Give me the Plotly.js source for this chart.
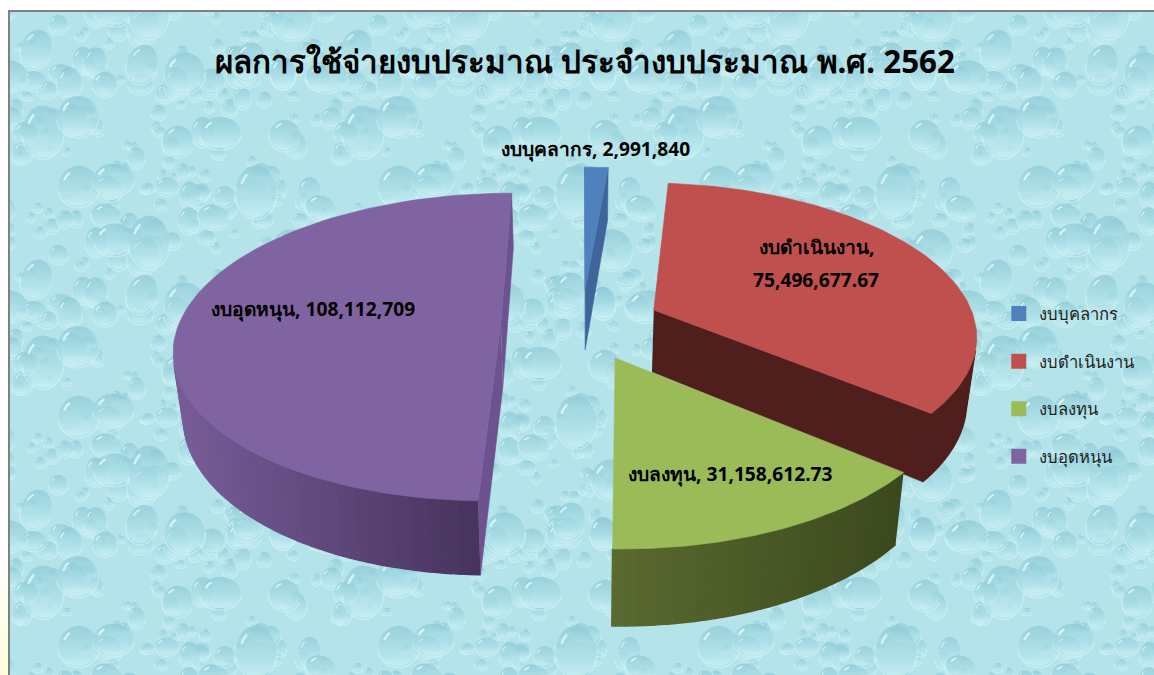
<!DOCTYPE html>
<html>
<head>
<meta charset="utf-8">
<script src="https://cdn.plot.ly/plotly-3.0.1.min.js"></script>
<style>
html,body{margin:0;padding:0;background:#fff;overflow:hidden;width:1154px;height:675px}
#strip{position:absolute;left:0;top:540px;width:8px;height:135px;background:linear-gradient(#ffffff,#fffbdc)}
#bg{position:absolute;left:8px;top:10px;width:1146px;height:665px;border-left:2px solid #808080;border-top:2px solid #808080;box-sizing:border-box}
#chart{position:absolute;left:0;top:0;width:1154px;height:675px}
</style>
</head>
<body>
<div id="strip"></div>
<div id="bg"></div>
<div id="chart"></div>
<script>
// ---- data ----
const categories = ["งบบุคลากร", "งบดำเนินงาน", "งบลงทุน", "งบอุดหนุน"];
const values = [2991840, 75496677.67, 31158612.73, 108112709];
const valueLabels = ["2,991,840", "75,496,677.67", "31,158,612.73", "108,112,709"];
const topColors = ["#4f81bd", "#c0504d", "#9bbb59", "#8064a2"];
const chartTitle = "ผลการใช้จ่ายงบประมาณ ประจำงบประมาณ พ.ศ. 2562";

// ---- water-drop backdrop (decoration only) ----
(function () {
  const W = 320, H = 230, c = document.createElement("canvas");
  c.width = W; c.height = H;
  const g = c.getContext("2d");
  g.fillStyle = "#b4e4ea"; g.fillRect(0, 0, W, H);
  const sizes = [5, 8, 4, 12, 6, 4, 9, 20, 5, 10, 4, 7, 15, 4, 6, 11];
  function drop(x, y, rx, ry, tilt) {
    const gr = g.createLinearGradient(0, y - ry, 0, y + ry);
    gr.addColorStop(0, "rgba(134,196,210,.62)");
    gr.addColorStop(0.6, "rgba(170,222,230,.6)");
    gr.addColorStop(1, "rgba(205,242,246,.75)");
    g.fillStyle = gr;
    g.beginPath(); g.ellipse(x, y, rx, ry, tilt, 0, 7); g.fill();
    g.strokeStyle = "rgba(214,245,248,.55)"; g.lineWidth = 1.4;
    g.beginPath(); g.ellipse(x, y + 1, rx + 1, ry + 1, tilt, 0.1, 3.0); g.stroke();
    g.strokeStyle = "rgba(228,250,252,.8)"; g.lineWidth = Math.max(1, rx * 0.12);
    g.beginPath(); g.ellipse(x, y, rx * 0.78, ry * 0.8, tilt, 3.5, 4.1); g.stroke();
  }
  const list = [];
  for (let i = 0; i < 175; i++) {
    const x = ((i * 0.618034) % 1) * W, y = ((i * i * 0.0371 + i * 0.31) % 1) * H;
    const r = sizes[i % sizes.length];
    list.push([x, y, r, r * (i % 3 === 0 ? 1.3 : i % 3 === 1 ? 0.78 : 1), i % 4 === 0 ? 0.3 : 0]);
  }
  list.sort((a, b) => a[2] - b[2]);
  list.forEach(d => {
    for (const dx of [-W, 0, W]) for (const dy of [-H, 0, H]) drop(d[0] + dx, d[1] + dy, d[2], d[3], d[4]);
  });
  document.getElementById("bg").style.backgroundImage = "url(" + c.toDataURL() + ")";
})();

// ---- projection of the tilted, exploded pie ----
const view = {vx: 582, vy: 324, A: 322, B: 150.4, C: 62.7, k: 0.1523, m: 0.025};
const explode = [0.24, 0.245, 0.24, 0.252];
function project(X, Y, Z) {
  const s = 1 / (1 + view.k * Y);
  return [view.vx + view.A * X * s * (1 - view.m * Z), view.vy - view.B * Y * s + view.C * Z * s];
}
const rad = d => d * Math.PI / 180;
const total = values.reduce((a, b) => a + b, 0);
let running = 0;
const slices = values.map(v => {
  const a0 = running / total * 360; running += v;
  return {a0, a1: running / total * 360};
});
function polyTrace(pts, color, w) {
  return {
    type: "scatter", mode: "lines", x: pts.map(p => p[0]), y: pts.map(p => p[1]),
    fill: "toself", fillcolor: color, line: {color: color, width: w === undefined ? 0.6 : w},
    hoverinfo: "skip", showlegend: false
  };
}
function shoelace(p) {
  let s = 0;
  for (let i = 0; i < p.length; i++) {
    const q = p[(i + 1) % p.length];
    s += p[i][0] * q[1] - q[0] * p[i][1];
  }
  return s;
}
function mix(c1, c2, t) {
  const r = c1.map((v, i) => Math.round(v + (c2[i] - v) * t));
  return "rgb(" + r.join(",") + ")";
}
const rimRamp = [
  [[63, 101, 154], [63, 101, 154]],
  [[79, 31, 30], [79, 31, 30]],
  [[90, 106, 48], [60, 73, 30]],
  [[120, 92, 152], [72, 52, 94]]
];
const sideColors = ["#3f659a", "#4f1f1e", "#3c491e", "#6e5290"];
function sliceTraces(i) {
  const {a0, a1} = slices[i], mid = rad((a0 + a1) / 2);
  const ox = explode[i] * Math.sin(mid), oy = explode[i] * Math.cos(mid);
  const at = (deg, z) => project(ox + Math.sin(rad(deg)), oy + Math.cos(rad(deg)), z);
  const apex = z => project(ox, oy, z);
  const out = [];
  const endFace = [apex(0), at(a1, 0), at(a1, 1), apex(1)];
  const startFace = [apex(0), at(a0, 0), at(a0, 1), apex(1)];
  if (shoelace(endFace) > 0) out.push(polyTrace(endFace, sideColors[i]));
  if (shoelace(startFace) < 0) out.push(polyTrace(startFace, sideColors[i]));
  const step = 1.5, bands = [];
  for (let d = a0; d < a1; d += step) {
    const e = Math.min(d + step, a1);
    const q = [at(d, 0), at(e, 0), at(e, 1), at(d, 1)];
    if (shoelace(q) < 0) bands.push(q);
  }
  if (bands.length) {
    const xs = bands.map(q => q[0][0]), lo = Math.min(...xs), hi = Math.max(...xs);
    bands.forEach(q => {
      const t = hi > lo ? (q[0][0] - lo) / (hi - lo) : 0;
      out.push(polyTrace(q, mix(rimRamp[i][0], rimRamp[i][1], t), 1.5));
    });
  }
  const top = [apex(0)];
  for (let d = a0; d <= a1 + 1e-6; d += (a1 - a0) / 80) top.push(at(d, 0));
  top.push(apex(0));
  out.push(polyTrace(top, topColors[i]));
  return out;
}
let traces = [];
[3, 0, 1, 2].forEach(i => { traces = traces.concat(sliceTraces(i)); });

categories.forEach((name, i) => {
  traces.push({
    type: "scatter", mode: "markers", x: [null], y: [null], name: name,
    legendgroup: name, hoverinfo: "skip",
    marker: {symbol: "square", size: 15, color: topColors[i]}
  });
});

const labelFont = {family: "Tahoma, 'Noto Sans', sans-serif", size: 19.2, color: "#000"};
const note = (x, y, text) => ({x, y, xref: "x", yref: "y", text: "<b>" + text + "</b>", showarrow: false, font: labelFont, align: "center"});
const annotations = [
  note(595, 148, categories[0] + ", " + valueLabels[0]),
  note(816, 246, categories[1] + ","),
  note(816, 279, valueLabels[1]),
  note(730, 473, categories[2] + ", " + valueLabels[2]),
  note(313, 308, categories[3] + ", " + valueLabels[3])
];

Plotly.newPlot("chart", traces, {
  width: 1154, height: 675,
  margin: {l: 0, r: 0, t: 0, b: 0},
  paper_bgcolor: "rgba(0,0,0,0)", plot_bgcolor: "rgba(0,0,0,0)",
  title: {text: "<b>" + chartTitle + "</b>", x: 0.507, xanchor: "center", y: 0.908, yanchor: "middle",
          font: {family: "Tahoma, 'Noto Sans', sans-serif", size: 31.3, color: "#000"}},
  xaxis: {range: [0, 1154], visible: false, fixedrange: true},
  yaxis: {range: [675, 0], visible: false, fixedrange: true},
  showlegend: true,
  legend: {x: 0.8655, xanchor: "left", y: 0.561, yanchor: "top", tracegroupgap: 23,
           bgcolor: "rgba(0,0,0,0)", itemclick: false, itemdoubleclick: false,
           font: {family: "Tahoma, 'Noto Sans', sans-serif", size: 16.6, color: "#222"}},
  annotations: annotations
}, {displayModeBar: false});
</script>
</body>
</html>
